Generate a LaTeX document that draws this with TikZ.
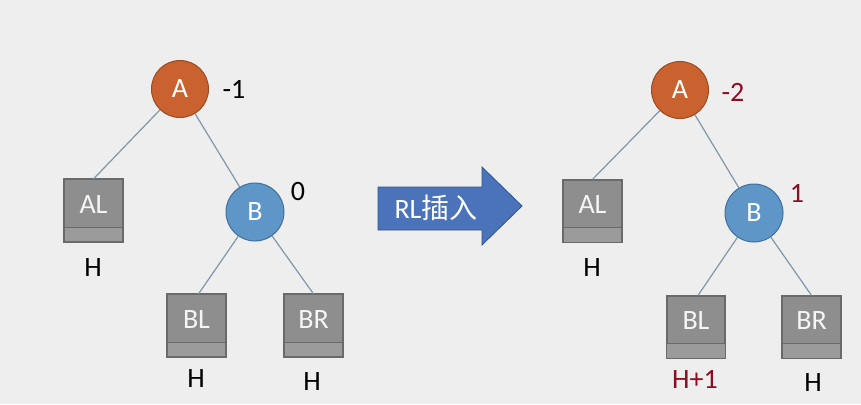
\documentclass[tikz,border=0pt]{standalone}
\usepackage{fontspec}
\setmainfont{Carlito}
\newfontfamily\cjkfont{Noto Sans CJK SC}
\usetikzlibrary{calc}
\definecolor{bgc}{HTML}{EEEEEE}
\definecolor{orangeA}{HTML}{C9622F}
\definecolor{orangeB}{HTML}{9C4A22}
\definecolor{blueA}{HTML}{5E96C8}
\definecolor{blueB}{HTML}{3F6F9C}
\definecolor{boxfill}{HTML}{8E8E8E}
\definecolor{boxlow}{HTML}{9B9B9B}
\definecolor{boxedge}{HTML}{6A6A6A}
\definecolor{edgec}{HTML}{7F97A8}
\definecolor{darkred}{HTML}{8B0E22}
\definecolor{arrowfill}{HTML}{4A73B9}
\definecolor{arrowedge}{HTML}{2F5496}
\tikzset{
  x=1pt, y=-1pt,
  every node/.style={font=\fontsize{28}{32}\selectfont},
  circA/.style={circle, draw=orangeB, line width=1pt, fill=orangeA, minimum size=57pt, inner sep=0pt, text=white},
  circB/.style={circle, draw=blueB, line width=1pt, fill=blueA, minimum size=58pt, inner sep=0pt, text=white},
  subtree/.style={rectangle, draw=boxedge, line width=1.2pt, fill=boxfill, minimum width=58pt, minimum height=62pt, inner sep=0pt},
  boxtext/.style={text=white!92!gray, inner sep=0pt},
  conn/.style={draw=edgec, line width=1.2pt},
  bal/.style={text=black, inner sep=0pt},
  balred/.style={text=darkred, inner sep=0pt},
}
\newcommand{\subbox}[3]{%
  \node[subtree] (#1) at (#2) {};
  \fill[boxlow] ($(#1.south west)+(0.8,-0.8)$) rectangle ($(#1.south east)+(-0.8,-15)$);
  \draw[boxedge, line width=1.2pt] ($(#1.south west)+(0,-15)$) -- ($(#1.south east)+(0,-15)$);
  \draw[boxedge, line width=1.2pt] (#1.north west) rectangle (#1.south east);
  \node[boxtext] (#1t) at ($(#1.center)+(0,-6)$) {#3};
}
\begin{document}
\begin{tikzpicture}
\fill[bgc] (0,0) rectangle (861,404);
\useasboundingbox (0,0) rectangle (861,404);

% ---------- left tree ----------
\node[circA] (A1) at (180,89) {A};
\node[circB] (B1) at (255,212) {B};
\subbox{AL1}{93.5,210.5}{AL}
\subbox{BL1}{196.5,325.5}{BL}
\subbox{BR1}{313.5,325.5}{BR}
\draw[conn] (A1) -- (AL1.north);
\draw[conn] (A1) -- (B1);
\draw[conn] (B1) -- ($(BL1.north)+(2,0)$);
\draw[conn] (B1) -- (BR1.north);
\node[bal] (bA1) at (234,89) {-1};
\node[bal] (bB1) at (298,192) {0};
\node[bal] (h1) at (93,268) {H};
\node[bal] (h2) at (196,379) {H};
\node[bal] (h3) at (312,382) {H};

% ---------- arrow ----------
\filldraw[fill=arrowfill, draw=arrowedge, line width=0.8pt]
  (378,187) -- (482,187) -- (482,167) -- (522,206) -- (482,245) -- (482,230) -- (378,230) -- cycle;
\node[text=white, inner sep=0pt] (arrtxt) at (436,208) {RL{\cjkfont 插入}};

% ---------- right tree ----------
\node[circA] (A2) at (680,90) {A};
\node[circB] (B2) at (754,213) {B};
\subbox{AL2}{592.5,211}{AL}
\subbox{BL2}{696,327}{BL}
\subbox{BR2}{811.5,327}{BR}
\draw[conn] (A2) -- (AL2.north);
\draw[conn] (A2) -- (B2);
\draw[conn] (B2) -- ($(BL2.north)+(2,0)$);
\draw[conn] (B2) -- (BR2.north);
\node[balred] (bA2) at (733,92) {-2};
\node[balred] (bB2) at (797,193) {1};
\node[bal] (h4) at (592,268) {H};
\node[balred] (h5) at (695,379) {H+1};
\node[bal] (h6) at (813,383) {H};
\end{tikzpicture}
\end{document}
